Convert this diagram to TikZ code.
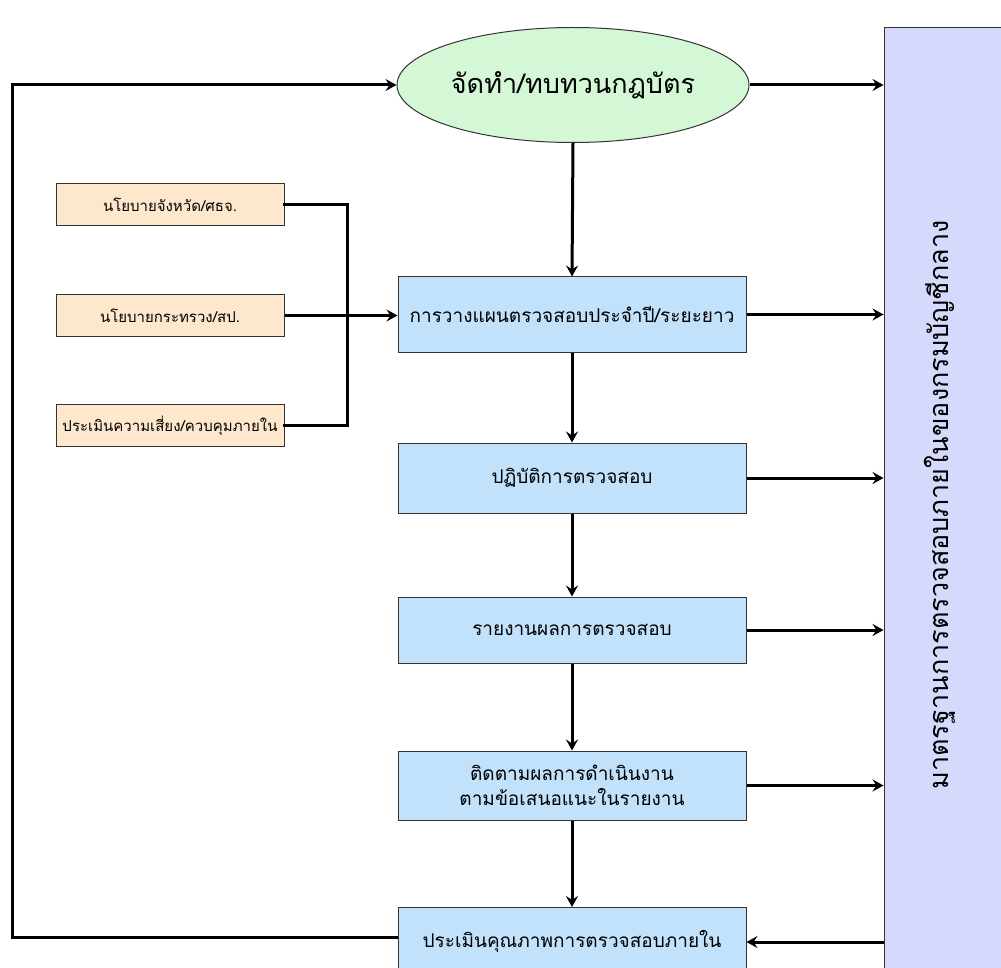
\documentclass[tikz,border=0pt]{standalone}
\usepackage{fontspec}
\newfontfamily\thaifont[Script=Thai]{Loma}
\usetikzlibrary{arrows.meta,shapes.geometric}
\definecolor{ellfill}{HTML}{D4F7D6}
\definecolor{boxfill}{HTML}{C2E1FB}
\definecolor{smallfill}{HTML}{FDE8CE}
\definecolor{stdfill}{HTML}{D5D9FB}
\definecolor{edge}{HTML}{333333}
\tikzset{
  mainbox/.style={draw=edge,line width=1pt,fill=boxfill,minimum width=348pt,inner sep=0pt,align=center,font=\thaifont\fontsize{19}{25}\selectfont},
  smallbox/.style={draw=edge,line width=1pt,fill=smallfill,minimum width=228pt,minimum height=42pt,inner sep=0pt,font=\thaifont\fontsize{15}{18}\selectfont},
  conn/.style={line width=3pt,line cap=rect},
  arr/.style={line width=3pt,-{Stealth[length=11pt,width=12pt,inset=4pt]}},
}
\begin{document}
\begin{tikzpicture}[x=1pt,y=-1pt]
\clip (0,0) rectangle (1001,968);
\fill[white] (0,0) rectangle (1001,968);
% right standard panel
\node[draw=edge,line width=1pt,fill=stdfill,minimum width=131pt,minimum height=952pt,inner sep=0pt] (std) at (949.5,504) {};
\node[rotate=90,font=\thaifont\fontsize{27}{30}\selectfont] (stdlabel) at (940,505) {มาตรฐานการตรวจสอบภายในของกรมบัญชีกลาง};
% charter ellipse
\node[ellipse,draw=edge,line width=1pt,fill=ellfill,minimum width=352pt,minimum height=115pt,inner sep=0pt] (ell) at (573,85) {};
\node[font=\thaifont\fontsize{27}{32}\selectfont] (ellt) at (573,85) {จัดทำ/ทบทวนกฎบัตร};
% main boxes
\node[mainbox,minimum height=75pt] (b1) at (572,314.5) {การวางแผนตรวจสอบประจำปี/ระยะยาว};
\node[mainbox,minimum height=70pt] (b2) at (572,478) {ปฏิบัติการตรวจสอบ};
\node[mainbox,minimum height=66pt] (b3) at (572,630) {รายงานผลการตรวจสอบ};
\node[mainbox,minimum height=69pt] (b4) at (572,785.5) {ติดตามผลการดำเนินงาน\\ตามข้อเสนอแนะในรายงาน};
\node[mainbox,minimum height=76pt,anchor=north] (b5) at (572,907) {};
\node[font=\thaifont\fontsize{19}{25}\selectfont] (b5t) at (572,941) {ประเมินคุณภาพการตรวจสอบภายใน};
% left input boxes
\node[smallbox] (pa) at (170,204.5) {นโยบายจังหวัด/ศธจ.};
\node[smallbox] (pb) at (170,315.5) {นโยบายกระทรวง/สป.};
\node[smallbox] (pc) at (170,425.5) {ประเมินความเสี่ยง/ควบคุมภายใน};
% input connectors
\draw[conn] (pa.east) -- ++(63,0) |- (pc.east);
\draw[arr] (pb.east) -- (pb.east -| b1.west);
% vertical flow
\draw[arr] (ell.south) -- (b1.north);
\draw[arr] (b1.south) -- (b2.north);
\draw[arr] (b2.south) -- (b3.north);
\draw[arr] (b3.south) -- (b4.north);
\draw[arr] (b4.south) -- (b5.north);
% to standards panel
\draw[arr] (ell.east) -- (ell.east -| std.west);
\draw[arr] (b1.east) -- (b1.east -| std.west);
\draw[arr] (b2.east) -- (b2.east -| std.west);
\draw[arr] (b3.east) -- (b3.east -| std.west);
\draw[arr] (b4.east) -- (b4.east -| std.west);
\coordinate (rin) at (884,942);
\draw[arr] (rin) -- (rin -| b5.east);
% feedback loop
\coordinate (lb) at (12,937);
\coordinate (lt) at (12,85);
\draw[arr] (lb -| b5.west) -- (lb) -- (lt) -- (ell.west);
\end{tikzpicture}
\end{document}
